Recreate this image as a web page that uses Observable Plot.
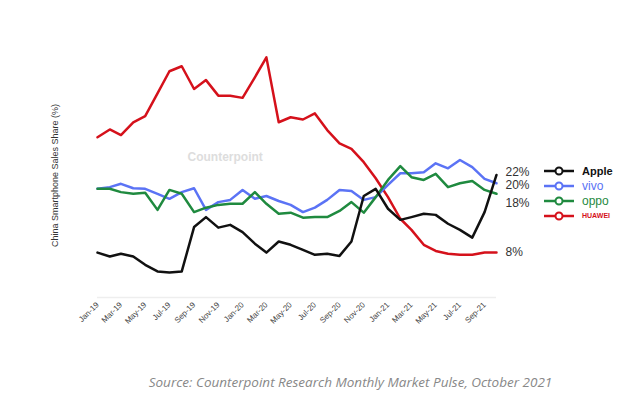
<!DOCTYPE html>
<html><head><meta charset="utf-8">
<script src="https://cdn.jsdelivr.net/npm/d3@7"></script>
<script src="https://cdn.jsdelivr.net/npm/@observablehq/plot@0.6"></script>
<style>
body{margin:0;background:#fff;font-family:"Liberation Sans",Arial,sans-serif}
#wrap{position:relative;width:641px;height:400px}
#caption{position:absolute;top:373px;left:0;width:641px;text-align:center;padding-left:60px;box-sizing:border-box;font-style:italic;color:#888;font-size:13.5px;font-family:"Open Sans",sans-serif}
#legend{position:absolute;left:544px;top:163px;font-size:12px}
.row{display:flex;align-items:center;height:15px}
</style></head>
<body><div id="wrap"><div id="chart"></div><div id="legend"></div>
<div id="caption">Source: Counterpoint Research Monthly Market Pulse, October 2021</div></div>
<script>
const months = d3.utcMonth.range(new Date(Date.UTC(2019,0,1)), new Date(Date.UTC(2021,10,1)))
const huawei = [28.9,30.3,29.3,31.6,32.7,36.8,40.8,41.7,37.6,39.2,36.4,36.4,36,39.7,43.3,31.6,32.5,32.1,33.2,30.2,27.8,26.8,24.4,21.5,18.1,14.2,12.2,9.5,8.4,7.9,7.7,7.7,8.1,8.1]
const vivo = [19.6,19.9,20.5,19.7,19.6,18.7,17.8,19,19.7,15.8,17.2,17.6,19.4,17.8,18.3,17.4,16.7,15.4,16.2,17.6,19.4,19.2,17.6,18.1,20.3,22.4,22.4,22.6,24.2,23.3,24.8,23.5,21.4,20.6]
const oppo = [19.6,19.6,19,18.7,18.9,15.8,19.4,18.7,15.4,16.2,16.7,16.9,16.9,19,16.9,15.1,15.3,14.4,14.5,14.5,15.6,17.2,15.3,18.1,21.2,23.7,21.7,21.2,22.3,19.9,20.6,21,19.4,18.7]
const apple = [8.1,7.4,7.9,7.4,5.9,4.7,4.5,4.7,12.7,14.5,12.6,13.1,11.8,9.7,8.1,10.1,9.5,8.6,7.7,7.9,7.5,10.1,18.3,19.6,16,14,14.5,15.1,14.9,13.3,12.2,10.8,15.4,22.1]
const brands = ["Huawei","vivo","OPPO","Apple"]
const colors = ["#d5111b","#5b73f5","#1f8a3f","#111111"]
const endLabels = ["8%","20%","18%","22%"]
const endDy = [0,2,9,-3]

const series = [huawei, vivo, oppo, apple]
const rows = series.flatMap((s, k) => s.map((v, i) => ({date: months[i], value: v, brand: brands[k]})))
const endMarks = series.map((s, k) => Plot.text([{date: months[months.length-1], value: s[s.length-1]}],
  {x: "date", y: "value", text: () => endLabels[k], dy: endDy[k], dx: 9, textAnchor: "start", fontSize: 12, fill: "#333"}))
const fmt = d3.utcFormat("%b-%y")

const plot = Plot.plot({
  width: 641, height: 365,
  marginLeft: 97, marginRight: 145, marginTop: 53, marginBottom: 68,
  style: {fontFamily: "Liberation Sans, Arial, sans-serif"},
  x: {type: "utc", domain: [months[0], months[months.length-1]]},
  y: {domain: [0, 44], axis: null},
  color: {domain: brands, range: colors},
  marks: [
    Plot.ruleY([0], {stroke: "#eee", strokeWidth: 1.5}),
    Plot.axisX({ticks: months.filter((d, i) => i % 2 == 0), tickFormat: fmt, tickRotate: -45, tickSize: 0, fontSize: 8, fill: "#444", textAnchor: "end", tickPadding: 6}),
    Plot.text(["Counterpoint"], {frameAnchor: "top-left", dx: 90, dy: 99, fill: "#ddd", fontSize: 12, fontWeight: "bold", textAnchor: "start"}),
    Plot.text(["China Smartphone Sales Share (%)"], {frameAnchor: "left", rotate: -90, dx: -42, textAnchor: "middle", fontSize: 9, fill: "#333"}),
    Plot.lineY(rows, {x: "date", y: "value", stroke: "brand", strokeWidth: 2.5}),
    ...endMarks
  ]
})
document.querySelector("#chart").append(plot)

const leg = document.querySelector("#legend")
const names = ["Apple","vivo","oppo","HUAWEI"]
const order = [3,1,2,0]
order.forEach((k, j) => {
  const r = document.createElement("div"); r.className = "row"
  r.innerHTML = `<svg width="34" height="12"><line x1="0" x2="30" y1="6" y2="6" stroke="${colors[k]}" stroke-width="2.5"/><circle cx="15" cy="6" r="3.5" fill="#fff" stroke="${colors[k]}" stroke-width="2"/></svg>` +
    `<span style="color:${colors[k]};margin-left:4px;${k==0?'font-size:7px;font-weight:bold':''}${k==3?'font-weight:bold;font-size:11px':''}">${names[j]}</span>`
  leg.append(r)
})
</script></body></html>
